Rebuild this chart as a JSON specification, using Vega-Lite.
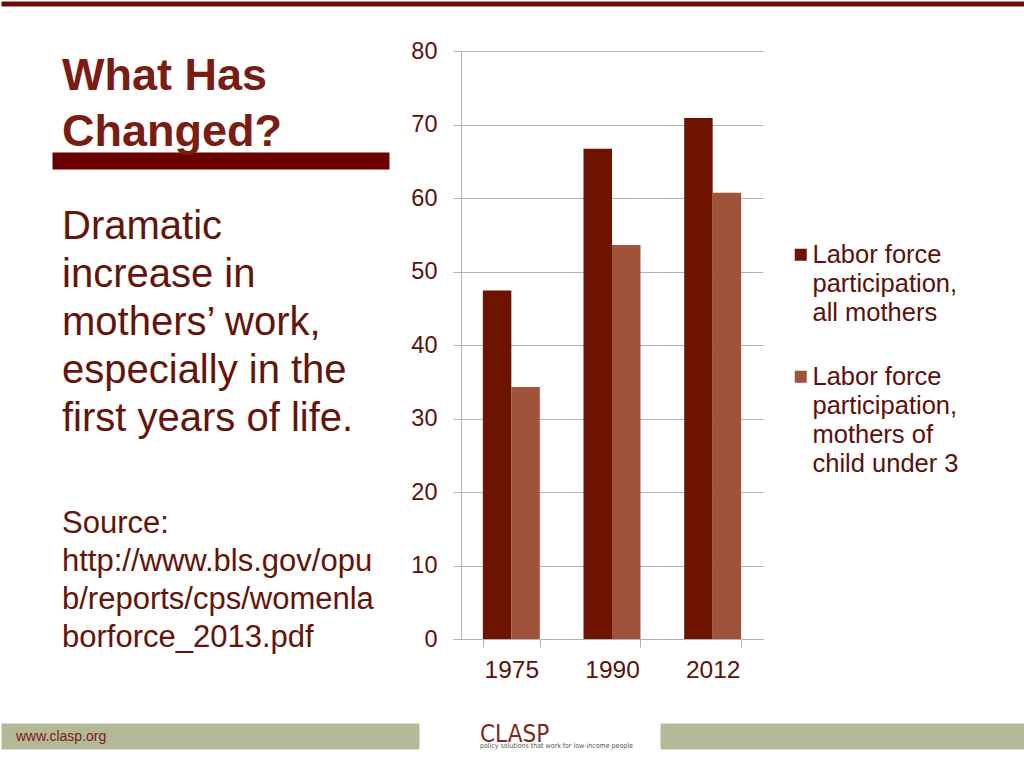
{
  "$schema": "https://vega.github.io/schema/vega-lite/v6.json",
  "padding": 0,
  "background": "white",
  "spacing": 31,
  "config": {
    "font": "Liberation Sans",
    "view": {"stroke": "transparent"},
    "title": {"offset": 0}
  },
  "resolve": {"scale": {"color": "independent"}, "legend": {"color": "independent"}},
  "vconcat": [
    {
      "width": 1024, "height": 5,
      "view": {"fill": "#6b0a06", "stroke": "transparent"},
      "data": {"values": []}, "mark": "point", "encoding": {}
    },
    {
      "spacing": 20,
      "resolve": {"scale": {"color": "independent"}, "legend": {"color": "independent"}},
      "hconcat": [
        {"width": 30, "height": 10, "data": {"values": []}, "mark": "point", "encoding": {}},
        {
          "spacing": 0,
          "vconcat": [
            {"width": 337, "height": 2, "data": {"values": []}, "mark": "point", "encoding": {}},
            {
              "width": 337, "height": 17,
              "view": {"fill": "#6b0000", "stroke": "transparent"},
              "title": {"text": ["What Has", "Changed?"], "orient": "top", "anchor": "start", "dx": 10, "offset": -3,
                        "fontSize": 45, "lineHeight": 56, "fontWeight": "bold", "color": "#7a1c12", "font": "Liberation Sans"},
              "data": {"values": []}, "mark": "point", "encoding": {}
            },
            {
              "width": 337, "height": 37,
              "title": {"text": ["Dramatic", "increase in", "mothers’ work,", "especially in the", "first years of life."],
                        "orient": "bottom", "anchor": "start", "dx": 10, "offset": 0,
                        "fontSize": 40, "lineHeight": 48, "fontWeight": "normal", "color": "#641408", "font": "Liberation Sans"},
              "data": {"values": []}, "mark": "point", "encoding": {}
            },
            {
              "width": 337, "height": 70,
              "title": {"text": ["Source:", "http://www.bls.gov/opu", "b/reports/cps/womenla", "borforce_2013.pdf"],
                        "orient": "bottom", "anchor": "start", "dx": 10, "offset": 0,
                        "fontSize": 31, "lineHeight": 38, "fontWeight": "normal", "color": "#641408", "font": "Liberation Sans"},
              "data": {"values": []}, "mark": "point", "encoding": {}
            },
            {"width": 337, "height": 38, "data": {"values": []}, "mark": "point", "encoding": {}}
          ]
        },
        {
          "width": 302, "height": 588,
          "data": {"values": [
            {"year": "1975", "series": "Labor force participation, all mothers", "rate": 47.4},
            {"year": "1975", "series": "Labor force participation, mothers of child under 3", "rate": 34.3},
            {"year": "1990", "series": "Labor force participation, all mothers", "rate": 66.7},
            {"year": "1990", "series": "Labor force participation, mothers of child under 3", "rate": 53.6},
            {"year": "2012", "series": "Labor force participation, all mothers", "rate": 70.9},
            {"year": "2012", "series": "Labor force participation, mothers of child under 3", "rate": 60.7}
          ]},
          "mark": {"type": "bar"},
          "encoding": {
            "x": {
              "field": "year", "type": "nominal", "sort": ["1975", "1990", "2012"],
              "scale": {"paddingInner": 0.434, "paddingOuter": 0.217},
              "axis": {"title": null, "labelAngle": 0, "labelFontSize": 24.5, "labelColor": "#5e0f0a", "labelPadding": 11,
                       "tickSize": 8, "tickBand": "extent", "tickColor": "#b3b3b3", "domainColor": "#b3b3b3", "grid": false}
            },
            "xOffset": {
              "field": "series", "type": "nominal",
              "sort": ["Labor force participation, all mothers", "Labor force participation, mothers of child under 3"]
            },
            "y": {
              "field": "rate", "type": "quantitative",
              "scale": {"domain": [0, 80], "nice": false},
              "axis": {"title": null, "values": [0, 10, 20, 30, 40, 50, 60, 70, 80], "labelFontSize": 23.5, "labelColor": "#5e0f0a",
                       "labelPadding": 16, "tickSize": 8, "tickColor": "#b3b3b3", "domainColor": "#b3b3b3",
                       "grid": true, "gridColor": "#b3b3b3"}
            },
            "color": {
              "field": "series", "type": "nominal",
              "scale": {"domain": ["Labor force participation, all mothers", "Labor force participation, mothers of child under 3"],
                        "range": ["#6d1300", "#a0533b"]},
              "legend": {
                "title": null, "orient": "none", "legendX": 327, "legendY": 191, "padding": 0,
                "symbolType": "square", "symbolSize": 144, "symbolStrokeWidth": 0,
                "labelFontSize": 25.5, "labelColor": "#5e0f0a", "labelOffset": 3, "labelLimit": 300, "rowPadding": 37,
                "labelExpr": "datum.label == 'Labor force participation, all mothers' ? ['Labor force', 'participation,', 'all mothers'] : ['Labor force', 'participation,', 'mothers of', 'child under 3']",
                "encode": {"labels": {"update": {"lineHeight": {"value": 29}, "dx": {"value": -4}}}}
              }
            }
          }
        }
      ]
    },
    {
      "spacing": 0,
      "hconcat": [
        {
          "width": 418, "height": 26,
          "view": {"fill": "#b5b799", "stroke": "transparent"},
          "title": {"text": "www.clasp.org", "orient": "bottom", "anchor": "start", "dx": 15, "offset": -19,
                    "fontSize": 14, "fontWeight": "normal", "color": "#7a1e12", "font": "Liberation Sans"},
          "data": {"values": []}, "mark": "point", "encoding": {}
        },
        {
          "width": 239, "height": 26,
          "title": {"text": "CLASP", "subtitle": "policy solutions that work for low-income people",
                    "orient": "bottom", "anchor": "start", "dx": 60, "offset": -26,
                    "fontSize": 24, "fontWeight": "normal", "color": "#7b2a20", "font": "'DejaVu Sans Condensed', 'Liberation Sans'",
                    "subtitleFontSize": 7, "subtitleColor": "#555555", "subtitlePadding": -5, "subtitleFont": "'DejaVu Sans Condensed', 'Liberation Sans'"},
          "data": {"values": []}, "mark": "point", "encoding": {}
        },
        {
          "width": 367, "height": 26,
          "view": {"fill": "#b5b799", "stroke": "transparent"},
          "data": {"values": []}, "mark": "point", "encoding": {}
        }
      ]
    }
  ]
}
